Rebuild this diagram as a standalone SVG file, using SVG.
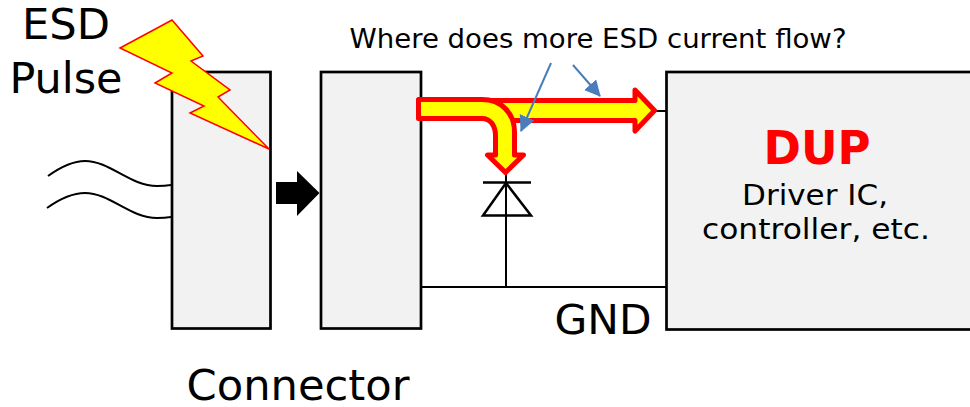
<svg xmlns="http://www.w3.org/2000/svg" width="970" height="407" viewBox="0 0 970 407">
<style>
text{font-family:"DejaVu Sans",sans-serif;fill:#000}
.box{fill:#f2f2f2;stroke:#000;stroke-width:2.700}
.w{fill:none;stroke:#000;stroke-width:2}
.b{fill:none;stroke:#4a7ebb;stroke-width:2;marker-end:url(#a)}
.y{fill:#ff0;stroke:#f00;stroke-width:5;stroke-linejoin:round}
</style>
<defs><marker id="a" markerUnits="userSpaceOnUse" markerWidth="18" markerHeight="18" refX="15" refY="8" orient="auto"><path d="M0 0L16 8L0 16z" fill="#4a7ebb"/></marker></defs>
<g id="connectors">
<path class="w" d="M48 176C62 166 74 161 85 161C110 161 130 186 157 186Q165 186 171 185"/>
<path class="w" d="M47 208C61 198 73 193 85 193C110 193 130 218 157 218Q165 218 171 217"/>
<path class="w" d="M655 111H667M506 170V287M420 287H667"/>
<path fill="none" stroke="#000" stroke-width="2.500" d="M483 182.500H531M506 183L483 215.500H531Z"/>
</g>
<g id="connector-left"><rect class="box" x="172" y="72" width="98.500" height="256.500"/></g>
<g id="connector-right"><rect class="box" x="321" y="72" width="100" height="256.500"/></g>
<g id="dup"><rect class="box" x="666.500" y="72" width="310" height="257.500"/>
<text x="817" y="164" font-size="47" font-weight="700" text-anchor="middle" style="fill:#f00" textLength="107" lengthAdjust="spacingAndGlyphs">DUP</text>
<text x="815" y="205" font-size="29" text-anchor="middle" textLength="146" lengthAdjust="spacingAndGlyphs">Driver IC,</text>
<text x="816" y="239" font-size="29" text-anchor="middle" textLength="228" lengthAdjust="spacingAndGlyphs">controller, etc.</text></g>
<g id="transfer-arrow"><path fill="#000" d="M276 182H297V171L319.500 193L297 216V204H276Z"/></g>
<g id="main-current"><path class="y" d="M490 100.500H635V90L654.500 110.500L635 131V120.500H490Z"/></g>
<g id="branch-current"><path class="y" d="M418.500 99.500H482C501 99.500 514.500 113 514.500 132V155H523.500L505.500 172.500L487.500 155H495.500V136C495.500 125 490 118.500 482 118.500H418.500Z"/></g>
<g id="esd-bolt"><path fill="#ff0" stroke="#f00" stroke-width="1.500" d="M172 20L203 56L191 61L230 90L218 97L269 149L190 113L204 106L155 83L172 73L120 48Z"/></g>
<g id="labels">
<text x="66" y="39" font-size="43" text-anchor="middle" textLength="88" lengthAdjust="spacingAndGlyphs">ESD</text>
<text x="66" y="93" font-size="43" text-anchor="middle" textLength="113" lengthAdjust="spacingAndGlyphs">Pulse</text>
<text x="598" y="48" font-size="26" text-anchor="middle" textLength="497" lengthAdjust="spacingAndGlyphs">Where does more ESD current flow?</text>
<text x="603" y="334" font-size="41" text-anchor="middle" textLength="97" lengthAdjust="spacingAndGlyphs">GND</text>
<text x="298" y="400" font-size="43" text-anchor="middle" textLength="223" lengthAdjust="spacingAndGlyphs">Connector</text>
</g>
<g id="pointers">
<path class="b" d="M551 63L521 131"/>
<path class="b" d="M573 65L600 96"/>
</g>
</svg>
